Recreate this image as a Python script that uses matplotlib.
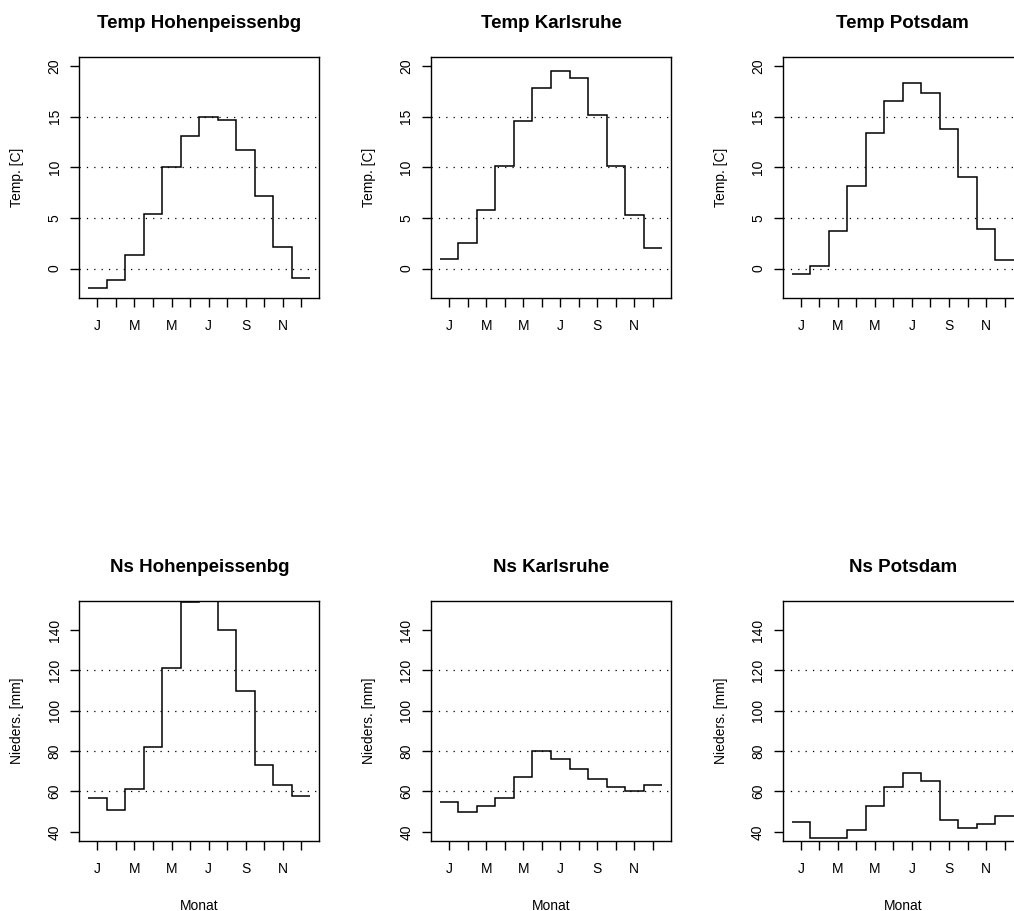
import matplotlib
matplotlib.use("Agg")
import matplotlib.pyplot as plt
import numpy as np

plt.rcParams['font.family'] = ['Liberation Sans', 'DejaVu Sans']
plt.rcParams['lines.scale_dashes'] = False

# Daten
monate = ["J", "F", "M", "A", "M", "J", "J", "A", "S", "O", "N", "D"]
stationen = ["Hohenpeissenbg", "Karlsruhe", "Potsdam"]

temp_hohenpeissenbg = [-1.9, -1.1, 1.3, 5.4, 10.0, 13.1, 15.0, 14.7, 11.7, 7.2, 2.1, -0.9]
temp_karlsruhe = [0.9, 2.5, 5.8, 10.1, 14.6, 17.8, 19.5, 18.8, 15.2, 10.1, 5.3, 2.0]
temp_potsdam = [-0.5, 0.3, 3.7, 8.2, 13.4, 16.6, 18.3, 17.4, 13.8, 9.0, 3.9, 0.8]

ns_hohenpeissenbg = [57, 51, 61, 82, 121, 154, 165, 140, 110, 73, 63, 58]
ns_karlsruhe = [55, 50, 53, 57, 67, 80, 76, 71, 66, 62, 60, 63]
ns_potsdam = [45, 37, 37, 41, 53, 62, 69, 65, 46, 42, 44, 48]

temp_ticks = [0, 5, 10, 15, 20]
temp_grid = [0, 5, 10, 15]
ns_ticks = [40, 60, 80, 100, 120, 140]
ns_grid = [60, 80, 100, 120]

W, H = 1014, 911
fig = plt.figure(figsize=(W / 100, H / 100), dpi=100)

lefts = [79.3, 431.0, 782.7]
breite = 240.0

zeilen = [
    ("Temp", [temp_hohenpeissenbg, temp_karlsruhe, temp_potsdam], temp_ticks, temp_grid,
     (-2.88, 20.88), "Temp. [C]", 57.3, 297.7, False),
    ("Ns", [ns_hohenpeissenbg, ns_karlsruhe, ns_potsdam], ns_ticks, ns_grid,
     (35.6, 154.4), "Nieders. [mm]", 601.0, 840.7, True),
]

monat_pos = np.arange(1, 13)
kanten = np.arange(0.5, 13)
tick_labels = [m if i % 2 == 0 else "" for i, m in enumerate(monate)]

for prefix, reihen, yticks, ygrid, ylim, ylab, top, bottom, mit_xlab in zeilen:
    for j, (station, werte) in enumerate(zip(stationen, reihen)):
        ax = fig.add_axes([lefts[j] / W, 1 - bottom / H, breite / W, (bottom - top) / H])
        ax.stairs(werte, edges=kanten, baseline=None, color="black", linewidth=1.1)
        for g in ygrid:
            ax.axhline(g, color="black", linewidth=0.9, linestyle=(0, (0.9, 4.4)))
        ax.set_xlim(0.02, 12.98)
        ax.set_ylim(*ylim)
        ax.set_xticks(monat_pos)
        ax.set_xticklabels(tick_labels)
        ax.set_yticks(yticks)
        ax.set_yticklabels([str(t) for t in yticks], rotation=90, va="center")
        ax.tick_params(axis="x", direction="out", length=6.7, width=1.0, pad=8.5,
                       labelsize=10, color="black")
        ax.tick_params(axis="y", direction="out", length=6.7, width=1.0, pad=6.0,
                       labelsize=10, color="black")
        for sp in ax.spines.values():
            sp.set_linewidth(1.0)
            sp.set_color("black")
        ax.set_title(prefix + " " + station, fontsize=13.5, fontweight="bold", pad=21)
        ax.text(-0.258, 0.5, ylab, transform=ax.transAxes, rotation=90,
                ha="center", va="center", fontsize=10)
        if mit_xlab:
            ax.text(0.5, -(910 - bottom) / (bottom - top), "Monat", transform=ax.transAxes,
                    ha="center", va="baseline", fontsize=10)

fig.savefig("out.png", dpi=100)
